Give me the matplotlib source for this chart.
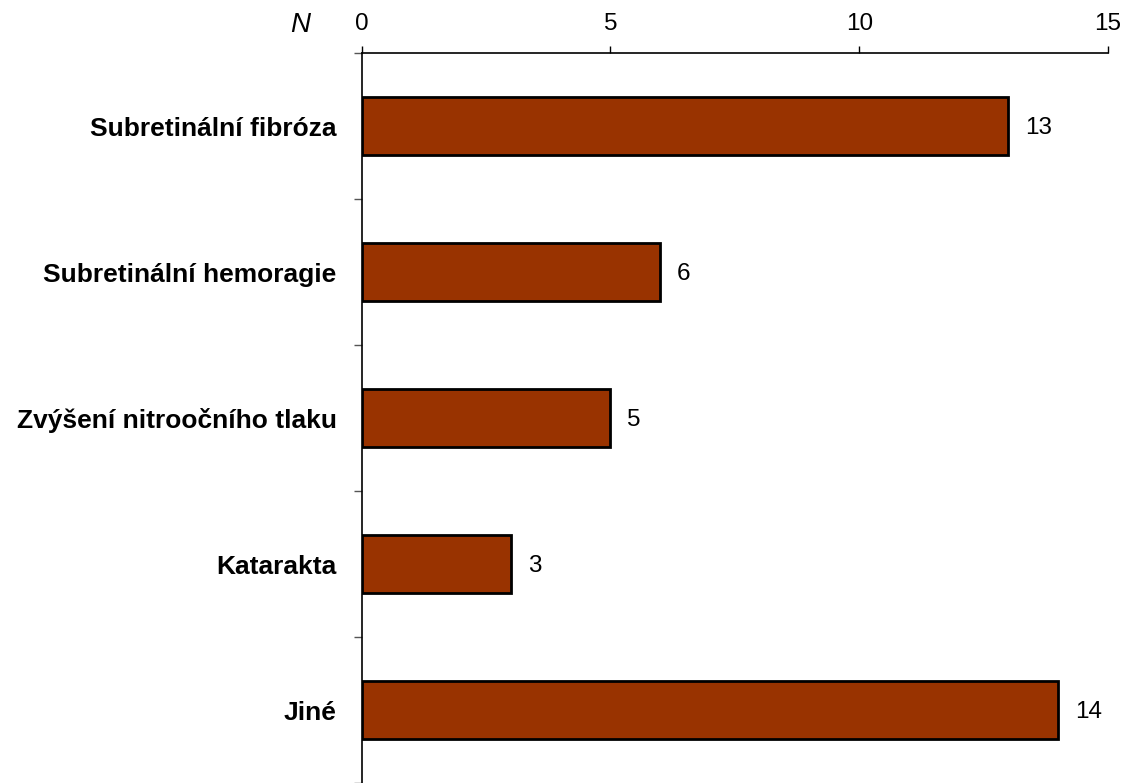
import matplotlib
matplotlib.use("Agg")
from matplotlib import pyplot as plt
import numpy as np

plt.rcParams['font.family'] = ['Liberation Sans', 'DejaVu Sans']

categories = ["Subretinální fibróza", "Subretinální hemoragie",
              "Zvýšení nitroočního tlaku", "Katarakta", "Jiné"]
counts = [13, 6, 5, 3, 14]
x_ticks = [0, 5, 10, 15]

BAR_COLOR = "#993300"


def main():
    fig = plt.figure(figsize=(11.34, 7.83), dpi=100)
    ax = fig.add_axes([0.319, 0.0, 0.658, 0.932])

    pos = np.arange(len(categories))
    ax.barh(pos, counts, height=0.4, color=BAR_COLOR,
            edgecolor="black", linewidth=2)

    # value labels right of each bar
    for p, c in zip(pos, counts):
        ax.annotate(str(c), xy=(c, p), xytext=(12, -1.5),
                    textcoords="offset points", va="center", ha="left",
                    fontsize=17.5)

    ax.set_xlim(0, 15)
    ax.set_ylim(len(categories) - 0.5, -0.5)

    # x axis on top
    ax.xaxis.tick_top()
    ax.set_xticks(x_ticks)
    ax.tick_params(axis="x", which="major", direction="out", length=5,
                   width=1, pad=8, labelsize=17.5)

    # category labels at centres, tick marks at the boundaries
    ax.set_yticks(pos)
    ax.set_yticklabels(categories, fontsize=19, fontweight="bold")
    ax.set_yticks(np.arange(len(categories) + 1) - 0.5, minor=True)
    ax.tick_params(axis="y", which="major", length=0, pad=18)
    ax.tick_params(axis="y", which="minor", direction="out", length=6,
                   width=1, color="#555555")

    for side in ["right", "bottom"]:
        ax.spines[side].set_visible(False)
    for side in ["top", "left"]:
        ax.spines[side].set_linewidth(1.2)

    fig.text(0.265, 0.968, "N", fontsize=20, style="italic",
             ha="center", va="center")

    fig.savefig("out.png", dpi=100)


if __name__ == "__main__":
    main()
